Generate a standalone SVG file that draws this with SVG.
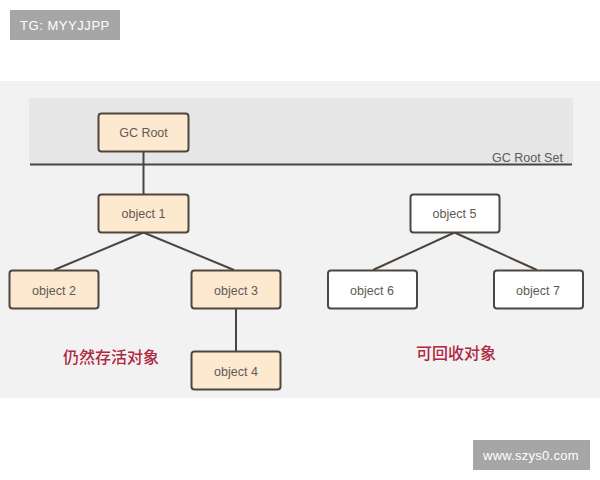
<svg xmlns="http://www.w3.org/2000/svg" width="600" height="480" viewBox="0 0 600 480">
<style>
text{font-family:"Liberation Sans","Noto Sans CJK SC",sans-serif}
.n rect{stroke:#4f473f;stroke-width:2}
.a rect{fill:#fde8d0}
.b rect{fill:#fff}
.n text{font-size:12.5px;fill:#5f5a54;text-anchor:middle}
.c{stroke:#4a4540;stroke-width:2;fill:none}
.r{font-size:16px;font-weight:500;fill:#b0283f;font-family:"Noto Sans CJK SC","Liberation Sans",sans-serif}
.w{fill:#fff;font-size:13px}
</style>
<rect width="600" height="480" fill="#fff"/>
<rect x="0" y="81" width="600" height="317" fill="#f3f2f3"/>
<rect x="29" y="98" width="544" height="66" fill="#e6e6e6"/>
<g id="connectors">
<path class="c" d="M30 164.500H572"/>
<path class="c" d="M143.500 151V194"/>
<path class="c" d="M143.500 232.500L54 270M143.500 232.500L234 270"/>
<path class="c" d="M236 309V351"/>
<path class="c" d="M454.500 232.500L373 270M454.500 232.500L537 270"/>
</g>
<text x="492" y="162" font-size="12.500" fill="#5f5a54">GC Root Set</text>
<g id="gc-root" class="n a"><rect x="98.500" y="113.500" width="90" height="38" rx="3"/><text x="143.500" y="137">GC Root</text></g>
<g id="object-1" class="n a"><rect x="98.500" y="194.500" width="90" height="38" rx="3"/><text x="143.500" y="218">object 1</text></g>
<g id="object-2" class="n a"><rect x="9.500" y="270.500" width="89" height="38" rx="3"/><text x="54" y="295">object 2</text></g>
<g id="object-3" class="n a"><rect x="191.500" y="270.500" width="89" height="38" rx="3"/><text x="236" y="295">object 3</text></g>
<g id="object-4" class="n a"><rect x="191.500" y="351.500" width="89" height="38" rx="3"/><text x="236" y="376">object 4</text></g>
<g id="object-5" class="n b"><rect x="410.500" y="194.500" width="89" height="38" rx="3"/><text x="454.500" y="218">object 5</text></g>
<g id="object-6" class="n b"><rect x="328" y="270.500" width="89" height="38" rx="3"/><text x="372" y="295">object 6</text></g>
<g id="object-7" class="n b"><rect x="494" y="270.500" width="89" height="38" rx="3"/><text x="538" y="295">object 7</text></g>
<text class="r" x="63" y="363">仍然存活对象</text>
<text class="r" x="416" y="359">可回收对象</text>
<rect x="10" y="10" width="110" height="30" fill="#a6a6a6"/>
<text class="w" x="20" y="30" letter-spacing="0.550">TG: MYYJJPP</text>
<rect x="473" y="440" width="117" height="30" fill="#a6a6a6"/>
<text class="w" x="483" y="460" letter-spacing="0.250">www.szys0.com</text>
</svg>
